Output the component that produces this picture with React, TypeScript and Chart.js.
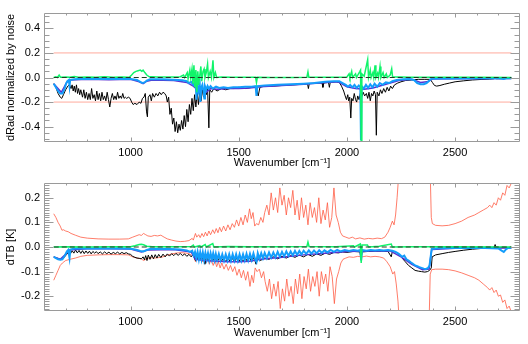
import React, { useEffect, useRef } from 'react';
import { Chart, registerables } from 'chart.js';

Chart.register(...registerables);

// ---------- axes ----------
const X_MIN = 600;
const X_MAX = 2800;
const xTickValues = [1000, 1500, 2000, 2500];
const yTicksTop = [-0.4, -0.2, 0.0, 0.2, 0.4];
const yTicksBottom = [-0.2, -0.1, 0.0, 0.1, 0.2];
const xTitle = 'Wavenumber [cm\u207B\u00B9]';
const yTitleTop = 'dRad normalized by noise';
const yTitleBottom = 'dTB [K]';

// ---------- top panel: dRad normalized by noise ([wavenumber, value]) ----------
const noiseLevelTop = [[645, 0.2], [2760, 0.2]];
const noiseLevelTopNeg = [[645, -0.2], [2760, -0.2]];
const zeroLine = [[645, 0], [2760, 0]];

const blackTop = [
  [645, -0.05], [655, -0.08], [665, -0.13], [675, -0.16], [682, -0.17], [690, -0.14], [700, -0.1], [710, -0.07], [718, -0.06],
  [725, -0.09], [730, -0.06], [735, -0.11], [740, -0.07], [745, -0.12], [750, -0.06], [755, -0.13], [760, -0.09], [765, -0.14], [770, -0.1],
  [778, -0.16], [784, -0.1], [790, -0.17], [796, -0.12], [802, -0.18], [808, -0.13], [814, -0.18], [820, -0.09], [826, -0.17], [832, -0.14],
  [838, -0.19], [844, -0.11], [850, -0.18], [856, -0.13], [862, -0.19], [868, -0.12], [874, -0.18], [880, -0.15], [886, -0.19], [892, -0.12],
  [898, -0.18], [904, -0.24], [910, -0.17], [916, -0.13], [922, -0.18], [928, -0.15], [934, -0.18], [940, -0.12], [946, -0.17], [952, -0.15],
  [958, -0.17], [964, -0.13], [970, -0.17], [976, -0.16], [982, -0.17], [990, -0.16], [998, -0.17],
  [1005, -0.2], [1012, -0.22], [1020, -0.21], [1030, -0.22], [1040, -0.2], [1048, -0.21], [1055, -0.17],
  [1062, -0.16], [1068, -0.13], [1074, -0.28], [1078, -0.32], [1082, -0.16], [1090, -0.14], [1096, -0.19], [1102, -0.13], [1110, -0.16],
  [1118, -0.13], [1126, -0.15], [1134, -0.12], [1142, -0.14], [1150, -0.12], [1158, -0.13],
  [1165, -0.15], [1170, -0.2], [1176, -0.16], [1182, -0.3], [1188, -0.25], [1194, -0.38], [1200, -0.33], [1206, -0.44], [1212, -0.36],
  [1218, -0.45], [1224, -0.38], [1230, -0.43], [1236, -0.35], [1242, -0.42], [1248, -0.31], [1254, -0.4], [1260, -0.26], [1266, -0.36],
  [1272, -0.22], [1278, -0.3], [1284, -0.17], [1290, -0.27], [1296, -0.14], [1302, -0.24], [1308, -0.12], [1314, -0.22], [1320, -0.11],
  [1326, -0.19], [1332, -0.1], [1338, -0.16], [1344, -0.1], [1350, -0.14], [1356, -0.09], [1362, -0.41], [1366, -0.1], [1375, -0.12],
  [1385, -0.09], [1400, -0.11], [1420, -0.09], [1440, -0.1], [1460, -0.09], [1480, -0.09], [1500, -0.08], [1530, -0.09], [1560, -0.08],
  [1580, -0.08], [1590, -0.15], [1598, -0.08], [1620, -0.07], [1660, -0.07], [1700, -0.065], [1750, -0.06], [1800, -0.055], [1818, -0.05],
  [1822, -0.09], [1826, -0.05], [1860, -0.045], [1885, -0.045], [1889, -0.08], [1893, -0.045], [1915, -0.04], [1919, -0.08], [1923, -0.04],
  [1950, -0.035], [1965, -0.04], [1975, -0.07], [1985, -0.11], [1992, -0.15], [1998, -0.18], [2004, -0.14], [2008, -0.19], [2013, -0.16],
  [2018, -0.33], [2022, -0.17], [2028, -0.19], [2034, -0.13], [2040, -0.18], [2045, -0.2], [2050, -0.15], [2056, -0.18], [2062, -0.13],
  [2068, -0.16], [2075, -0.12], [2082, -0.15], [2090, -0.13], [2096, -0.17], [2102, -0.12], [2108, -0.19], [2114, -0.13], [2120, -0.15],
  [2126, -0.11], [2132, -0.14], [2136, -0.47], [2140, -0.12], [2148, -0.15], [2155, -0.1], [2162, -0.13], [2170, -0.09], [2178, -0.12],
  [2186, -0.08], [2194, -0.11], [2202, -0.07], [2210, -0.09], [2220, -0.06], [2235, -0.045], [2250, -0.035], [2270, -0.025], [2300, -0.02],
  [2330, -0.015], [2360, -0.015], [2385, -0.015], [2395, -0.04], [2405, -0.065], [2415, -0.07], [2430, -0.065], [2450, -0.055],
  [2475, -0.045], [2500, -0.035], [2540, -0.027], [2580, -0.02], [2620, -0.016], [2660, -0.013], [2680, -0.01], [2685, 0.003],
  [2690, -0.01], [2720, -0.009], [2760, -0.008],
];

const purpleTop = [
  [645, -0.05], [680, -0.12], [705, -0.04], [720, -0.02], [800, -0.015], [900, -0.018], [1000, -0.015], [1040, -0.035], [1058, -0.05],
  [1075, -0.03], [1100, -0.02], [1200, -0.025], [1260, -0.04], [1290, -0.07], [1310, -0.1], [1330, -0.085], [1350, -0.12], [1370, -0.09],
  [1400, -0.095], [1450, -0.09], [1500, -0.09], [1550, -0.085], [1600, -0.075], [1700, -0.065], [1800, -0.055], [1900, -0.04],
  [1960, -0.035], [2000, -0.075], [2040, -0.09], [2080, -0.095], [2120, -0.085], [2160, -0.065], [2200, -0.045], [2240, -0.025],
  [2300, -0.015], [2340, -0.04], [2370, -0.035], [2395, -0.012], [2500, -0.01], [2760, -0.008],
];

const blueTop = [
  [645, -0.05], [655, -0.08], [665, -0.11], [675, -0.13], [685, -0.13], [695, -0.09], [702, -0.05], [708, -0.03], [715, -0.02],
  [718, -0.07], [721, -0.02], [740, -0.015], [780, -0.01], [820, -0.012], [860, -0.01], [900, -0.012], [950, -0.01], [1000, -0.012],
  [1030, -0.02], [1045, -0.035], [1055, -0.045], [1065, -0.04], [1075, -0.025], [1090, -0.015], [1150, -0.015], [1200, -0.018],
  [1240, -0.022], [1260, -0.03], [1270, -0.045], [1280, -0.035], [1290, -0.06], [1296, -0.04], [1302, -0.08], [1305, -0.18], [1308, -0.05],
  [1314, -0.11], [1320, -0.06], [1323, -0.2], [1326, -0.09], [1332, -0.06], [1338, -0.12], [1341, -0.17], [1344, -0.07], [1350, -0.1],
  [1356, -0.07], [1362, -0.09],
  [1370, -0.07], [1380, -0.09], [1395, -0.075], [1410, -0.085], [1430, -0.08], [1450, -0.085], [1475, -0.08], [1500, -0.08],
  [1530, -0.075], [1560, -0.075], [1578, -0.07], [1582, -0.15], [1586, -0.07], [1620, -0.065], [1680, -0.06], [1740, -0.055],
  [1800, -0.05], [1850, -0.045], [1900, -0.035], [1940, -0.03], [1965, -0.03], [1980, -0.045], [1995, -0.06], [2005, -0.075],
  [2015, -0.06], [2025, -0.08], [2035, -0.06], [2045, -0.085], [2055, -0.065], [2062, -0.08], [2065, -0.51], [2068, -0.07],
  [2078, -0.09], [2088, -0.06], [2098, -0.085], [2108, -0.055], [2118, -0.08], [2128, -0.05], [2140, -0.075], [2152, -0.045],
  [2165, -0.06], [2180, -0.04], [2195, -0.045], [2210, -0.03], [2230, -0.02], [2260, -0.015], [2290, -0.012], [2310, -0.02],
  [2325, -0.045], [2340, -0.055], [2355, -0.055], [2368, -0.045], [2378, -0.03], [2390, -0.01], [2420, -0.008], [2500, -0.008],
  [2600, -0.007], [2700, -0.007], [2725, -0.012], [2735, -0.006], [2760, -0.006],
];

const greenTop = [
  [645, 0.0], [655, 0.005], [662, 0.0], [670, 0.02], [676, 0.003], [700, 0.005], [720, 0.002], [740, 0.008], [760, 0.003], [800, 0.005],
  [840, 0.002], [880, 0.006], [920, 0.003], [960, 0.005], [995, 0.003], [1005, 0.02], [1015, 0.04], [1025, 0.05], [1035, 0.055],
  [1045, 0.06], [1052, 0.05], [1058, 0.06], [1066, 0.04], [1075, 0.02], [1085, 0.008], [1120, 0.004], [1160, 0.005], [1200, 0.004],
  [1230, 0.006], [1245, 0.02], [1250, 0.0], [1262, 0.04], [1266, -0.01], [1274, 0.06], [1278, 0.0], [1284, 0.07], [1288, -0.05],
  [1293, 0.1], [1297, -0.08], [1302, 0.06], [1306, -0.12], [1311, 0.05], [1315, -0.06], [1325, 0.09], [1329, -0.03], [1335, 0.05],
  [1340, 0.07], [1344, 0.0], [1350, 0.04], [1356, 0.11], [1360, 0.0], [1368, 0.05], [1374, 0.0], [1381, 0.14], [1385, 0.0], [1392, 0.04],
  [1398, 0.0], [1420, 0.004], [1470, 0.003], [1530, 0.002], [1578, 0.002], [1582, -0.04], [1586, 0.002], [1650, 0.001], [1750, 0.001],
  [1815, 0.002], [1820, 0.045], [1824, 0.002], [1900, 0.002], [1960, 0.003], [2000, 0.004], [2010, 0.03], [2014, 0.0], [2022, 0.05],
  [2026, 0.0], [2040, 0.03], [2044, 0.0], [2060, 0.05], [2063, 0.06], [2066, -0.51], [2069, 0.03], [2080, 0.01], [2096, 0.145],
  [2100, 0.0], [2108, 0.06], [2112, 0.0], [2120, 0.04], [2124, 0.0], [2130, 0.1], [2134, 0.0], [2142, 0.035], [2146, 0.0], [2153, 0.09],
  [2157, 0.0], [2167, 0.04], [2172, 0.0], [2182, 0.03], [2187, 0.0], [2200, 0.02], [2207, 0.07], [2211, 0.005], [2250, 0.004],
  [2300, 0.003], [2400, 0.002], [2500, 0.002], [2600, 0.002], [2760, 0.001],
];

// ---------- bottom panel: dTB [K] ----------
const noiseUpper = [
  [645, 0.135], [655, 0.12], [665, 0.1], [675, 0.085], [683, 0.068], [690, 0.07], [700, 0.065], [712, 0.062], [725, 0.055], [745, 0.048],
  [770, 0.04], [800, 0.036], [850, 0.033], [900, 0.032], [950, 0.032], [990, 0.033], [1010, 0.04], [1025, 0.045], [1040, 0.05],
  [1050, 0.047], [1060, 0.055], [1070, 0.05], [1080, 0.045], [1095, 0.043], [1110, 0.047], [1125, 0.045], [1140, 0.048], [1155, 0.04],
  [1170, 0.033], [1190, 0.028], [1210, 0.024], [1230, 0.022], [1250, 0.023], [1270, 0.026], [1285, 0.035], [1290, 0.028], [1300, 0.055],
  [1306, 0.04], [1315, 0.05], [1322, 0.038], [1330, 0.055], [1338, 0.042], [1346, 0.06], [1354, 0.045], [1362, 0.065], [1370, 0.05],
  [1380, 0.07], [1388, 0.055], [1396, 0.075], [1404, 0.058], [1412, 0.08], [1420, 0.062], [1430, 0.085], [1440, 0.065], [1450, 0.09],
  [1460, 0.07], [1470, 0.095], [1480, 0.08], [1490, 0.11], [1500, 0.085], [1510, 0.12], [1520, 0.09], [1530, 0.13], [1540, 0.1],
  [1550, 0.155], [1558, 0.115], [1566, 0.14], [1574, 0.085], [1582, 0.095], [1592, 0.09], [1602, 0.12], [1612, 0.1], [1620, 0.14],
  [1630, 0.17], [1640, 0.13], [1650, 0.22], [1660, 0.15], [1670, 0.2], [1680, 0.14], [1690, 0.24], [1700, 0.17], [1710, 0.21],
  [1720, 0.13], [1730, 0.2], [1740, 0.16], [1750, 0.23], [1760, 0.13], [1770, 0.19], [1780, 0.11], [1790, 0.2], [1800, 0.12],
  [1810, 0.17], [1820, 0.09], [1830, 0.18], [1840, 0.12], [1850, 0.16], [1860, 0.1], [1870, 0.2], [1880, 0.095], [1890, 0.15],
  [1900, 0.11], [1910, 0.18], [1920, 0.08], [1930, 0.12], [1940, 0.24], [1950, 0.13], [1960, 0.1], [1970, 0.06], [1980, 0.045],
  [1995, 0.04], [2010, 0.035], [2025, 0.04], [2040, 0.033], [2060, 0.037], [2080, 0.032], [2100, 0.035], [2120, 0.033], [2140, 0.036],
  [2160, 0.034], [2175, 0.04], [2190, 0.06], [2200, 0.08], [2210, 0.105], [2218, 0.09], [2225, 0.13], [2232, 0.2], [2240, 0.3],
  [2385, 0.3], [2390, 0.12], [2395, 0.095], [2410, 0.088], [2440, 0.086], [2470, 0.088], [2500, 0.095], [2530, 0.105], [2560, 0.12],
  [2590, 0.13], [2610, 0.14], [2630, 0.15], [2650, 0.16], [2660, 0.17], [2670, 0.16], [2680, 0.18], [2690, 0.17], [2700, 0.2],
  [2710, 0.19], [2720, 0.22], [2730, 0.21], [2740, 0.25], [2750, 0.24], [2760, 0.26],
];

const noiseLower = [
  [645, -0.135], [655, -0.115], [665, -0.095], [675, -0.075], [685, -0.065], [700, -0.055], [720, -0.05], [745, -0.045], [770, -0.038],
  [800, -0.034], [850, -0.032], [900, -0.031], [950, -0.031], [990, -0.032], [1010, -0.04], [1030, -0.045], [1050, -0.048],
  [1060, -0.055], [1075, -0.048], [1090, -0.043], [1110, -0.045], [1130, -0.043], [1150, -0.04], [1170, -0.033], [1190, -0.028],
  [1210, -0.025], [1230, -0.023], [1250, -0.024], [1270, -0.027], [1285, -0.035], [1292, -0.03], [1300, -0.06], [1307, -0.04],
  [1316, -0.055], [1324, -0.04], [1332, -0.06], [1340, -0.045], [1348, -0.065], [1356, -0.045], [1364, -0.07], [1372, -0.05],
  [1382, -0.075], [1390, -0.055], [1398, -0.08], [1406, -0.06], [1414, -0.085], [1422, -0.065], [1432, -0.09], [1442, -0.07],
  [1452, -0.095], [1462, -0.075], [1472, -0.1], [1482, -0.08], [1492, -0.115], [1502, -0.09], [1512, -0.125], [1522, -0.095],
  [1532, -0.135], [1542, -0.1], [1552, -0.16], [1560, -0.115], [1568, -0.145], [1576, -0.085], [1585, -0.1], [1595, -0.09],
  [1605, -0.125], [1615, -0.1], [1622, -0.14], [1632, -0.18], [1642, -0.13], [1652, -0.21], [1662, -0.15], [1672, -0.2], [1682, -0.14],
  [1692, -0.25], [1702, -0.17], [1712, -0.22], [1722, -0.13], [1732, -0.2], [1742, -0.16], [1752, -0.23], [1762, -0.13], [1772, -0.19],
  [1782, -0.11], [1792, -0.21], [1802, -0.12], [1812, -0.17], [1822, -0.09], [1832, -0.18], [1842, -0.12], [1852, -0.16], [1862, -0.1],
  [1872, -0.2], [1882, -0.1], [1892, -0.15], [1902, -0.11], [1912, -0.18], [1922, -0.08], [1932, -0.12], [1942, -0.23], [1952, -0.13],
  [1962, -0.1], [1972, -0.065], [1982, -0.05], [1995, -0.045], [2010, -0.04], [2030, -0.042], [2050, -0.038], [2070, -0.04],
  [2090, -0.037], [2110, -0.04], [2130, -0.038], [2150, -0.04], [2170, -0.045], [2185, -0.06], [2200, -0.08], [2212, -0.11],
  [2220, -0.1], [2228, -0.15], [2236, -0.22], [2242, -0.3], [2380, -0.3], [2385, -0.11], [2392, -0.092], [2410, -0.09], [2440, -0.09],
  [2470, -0.092], [2500, -0.097], [2530, -0.105], [2560, -0.115], [2590, -0.125], [2610, -0.135], [2630, -0.15], [2650, -0.165],
  [2660, -0.175], [2670, -0.165], [2680, -0.185], [2690, -0.175], [2700, -0.2], [2710, -0.195], [2720, -0.225], [2730, -0.215],
  [2740, -0.25], [2750, -0.24], [2760, -0.265],
];

const blackBottom = [
  [645, -0.04], [660, -0.045], [675, -0.05], [690, -0.045], [705, -0.03], [715, -0.02], [722, -0.028], [730, -0.015], [738, -0.025],
  [746, -0.012], [754, -0.024], [762, -0.014], [770, -0.026], [778, -0.015], [786, -0.027], [794, -0.016], [802, -0.026], [810, -0.017],
  [818, -0.028], [826, -0.018], [834, -0.025], [842, -0.019], [850, -0.027], [860, -0.02], [870, -0.028], [880, -0.02], [890, -0.027],
  [900, -0.021], [910, -0.029], [920, -0.022], [930, -0.027], [940, -0.021], [950, -0.028], [960, -0.022], [970, -0.027], [980, -0.023],
  [990, -0.028], [1000, -0.03], [1010, -0.038], [1020, -0.042], [1030, -0.045], [1040, -0.046], [1050, -0.048], [1058, -0.04],
  [1064, -0.052], [1070, -0.035], [1076, -0.055], [1082, -0.033], [1090, -0.05], [1098, -0.032], [1106, -0.048], [1114, -0.031],
  [1122, -0.045], [1130, -0.03], [1140, -0.043], [1150, -0.029], [1160, -0.04], [1170, -0.028], [1180, -0.037], [1190, -0.027],
  [1200, -0.035], [1210, -0.026], [1220, -0.034], [1230, -0.026], [1240, -0.035], [1250, -0.028], [1260, -0.038], [1270, -0.03],
  [1280, -0.04], [1290, -0.03], [1300, -0.055], [1306, -0.035], [1312, -0.05], [1320, -0.035], [1328, -0.055], [1336, -0.04],
  [1344, -0.07], [1350, -0.04], [1360, -0.055], [1370, -0.04], [1380, -0.055], [1390, -0.042], [1400, -0.06], [1410, -0.045],
  [1420, -0.058], [1430, -0.045], [1440, -0.06], [1450, -0.045], [1460, -0.058], [1470, -0.046], [1480, -0.06], [1490, -0.045],
  [1500, -0.062], [1510, -0.045], [1520, -0.06], [1530, -0.044], [1540, -0.058], [1550, -0.043], [1560, -0.06], [1570, -0.042],
  [1580, -0.07], [1590, -0.04], [1600, -0.055], [1620, -0.045], [1640, -0.05], [1660, -0.04], [1680, -0.048], [1700, -0.038],
  [1720, -0.045], [1740, -0.035], [1760, -0.042], [1780, -0.033], [1800, -0.04], [1820, -0.03], [1840, -0.038], [1860, -0.028],
  [1880, -0.034], [1900, -0.025], [1920, -0.03], [1940, -0.022], [1960, -0.024], [1980, -0.02], [2000, -0.022], [2030, -0.018],
  [2060, -0.02], [2065, -0.05], [2070, -0.02], [2100, -0.018], [2130, -0.017], [2160, -0.017], [2190, -0.018], [2205, -0.04],
  [2210, -0.018], [2225, -0.02], [2240, -0.03], [2255, -0.045], [2270, -0.06], [2285, -0.075], [2300, -0.085], [2315, -0.095],
  [2330, -0.098], [2345, -0.1], [2360, -0.102], [2372, -0.1], [2382, -0.095], [2390, -0.085], [2394, -0.04], [2410, -0.032],
  [2440, -0.027], [2470, -0.022], [2500, -0.018], [2540, -0.013], [2580, -0.009], [2620, -0.006], [2660, -0.004], [2680, -0.003],
  [2685, 0.01], [2690, -0.003], [2720, -0.002], [2760, -0.002],
];

const purpleBottom = [
  [645, -0.04], [675, -0.05], [700, -0.03], [715, -0.012], [800, -0.007], [900, -0.007], [1000, -0.008], [1050, -0.02], [1080, -0.012],
  [1200, -0.01], [1280, -0.02], [1300, -0.05], [1340, -0.055], [1400, -0.058], [1450, -0.06], [1500, -0.06], [1550, -0.058],
  [1600, -0.05], [1700, -0.042], [1800, -0.032], [1900, -0.025], [2000, -0.018], [2100, -0.016], [2200, -0.016], [2250, -0.04],
  [2300, -0.07], [2350, -0.092], [2380, -0.09], [2392, -0.01], [2500, -0.005], [2760, -0.004],
];

const blueBottom = [
  [645, -0.04], [655, -0.045], [665, -0.05], [675, -0.052], [685, -0.05], [693, -0.04], [700, -0.028], [706, -0.018], [712, -0.012],
  [718, -0.045], [722, -0.01], [740, -0.006], [780, -0.005], [820, -0.006], [860, -0.005], [900, -0.006], [940, -0.005], [980, -0.006],
  [1010, -0.008], [1030, -0.012], [1045, -0.016], [1060, -0.018], [1075, -0.012], [1090, -0.008], [1130, -0.007], [1180, -0.008],
  [1230, -0.01], [1260, -0.014], [1275, -0.02], [1285, -0.015], [1292, -0.035], [1298, -0.02], [1304, -0.045], [1310, -0.02],
  [1316, -0.05], [1322, -0.022], [1328, -0.05], [1334, -0.022], [1340, -0.052], [1346, -0.024], [1352, -0.05], [1358, -0.025],
  [1364, -0.052], [1370, -0.026], [1376, -0.05], [1382, -0.026], [1388, -0.052], [1394, -0.028], [1400, -0.053], [1408, -0.028],
  [1416, -0.054], [1424, -0.03], [1432, -0.055], [1440, -0.03], [1448, -0.055], [1456, -0.03], [1464, -0.056], [1472, -0.03],
  [1480, -0.055], [1488, -0.03], [1496, -0.056], [1504, -0.03], [1512, -0.055], [1520, -0.03], [1528, -0.054], [1536, -0.028],
  [1544, -0.054], [1552, -0.028], [1560, -0.052], [1568, -0.026], [1576, -0.05], [1582, -0.06], [1588, -0.025], [1596, -0.048],
  [1604, -0.025], [1612, -0.046], [1620, -0.024], [1630, -0.045], [1640, -0.022], [1650, -0.043], [1660, -0.022], [1670, -0.042],
  [1680, -0.02], [1690, -0.04], [1700, -0.02], [1710, -0.038], [1720, -0.018], [1730, -0.036], [1740, -0.018], [1750, -0.034],
  [1760, -0.016], [1770, -0.032], [1780, -0.016], [1790, -0.03], [1800, -0.015], [1812, -0.028], [1824, -0.014], [1836, -0.027],
  [1848, -0.014], [1860, -0.026], [1872, -0.013], [1884, -0.024], [1896, -0.013], [1910, -0.022], [1925, -0.012], [1940, -0.02],
  [1955, -0.012], [1970, -0.018], [1990, -0.012], [2010, -0.016], [2030, -0.012], [2050, -0.015], [2062, -0.012], [2066, -0.055],
  [2070, -0.012], [2090, -0.015], [2110, -0.012], [2130, -0.014], [2150, -0.012], [2170, -0.014], [2190, -0.012], [2210, -0.015],
  [2225, -0.02], [2240, -0.028], [2255, -0.04], [2265, -0.035], [2275, -0.05], [2285, -0.055], [2295, -0.062], [2305, -0.068],
  [2315, -0.075], [2325, -0.078], [2335, -0.082], [2345, -0.085], [2355, -0.088], [2365, -0.09], [2375, -0.085], [2382, -0.075],
  [2387, -0.04], [2392, -0.008], [2420, -0.005], [2480, -0.004], [2560, -0.004], [2640, -0.004], [2700, -0.006], [2715, -0.015],
  [2725, -0.02], [2735, -0.01], [2745, -0.004], [2760, -0.004],
];

const greenBottom = [
  [645, 0.0], [700, 0.001], [800, 0.0], [900, 0.001], [1000, 0.001], [1020, 0.005], [1040, 0.01], [1050, 0.011], [1060, 0.009],
  [1075, 0.003], [1100, 0.001], [1200, 0.001], [1280, 0.002], [1290, 0.008], [1295, 0.0], [1320, 0.006], [1325, 0.0], [1345, 0.01],
  [1350, 0.0], [1380, 0.014], [1385, 0.0], [1450, 0.002], [1550, 0.001], [1650, 0.001], [1815, 0.002], [1820, 0.02], [1825, 0.002],
  [1950, 0.001], [2030, 0.005], [2035, 0.0], [2062, 0.012], [2066, -0.065], [2070, 0.008], [2095, 0.008], [2100, 0.0], [2150, 0.003],
  [2205, 0.012], [2210, 0.0], [2300, 0.001], [2500, 0.001], [2760, 0.0],
];

// ---------- styling ----------
const FONT = { family: 'Liberation Sans, Arial, Helvetica, sans-serif', size: 11 };
const AXIS_COLOR = '#9a9a9a';
const C_BLACK = '#000000';
const C_PURPLE = '#5a2fd0';
const C_BLUE = '#139dfb';
const C_GREEN = '#10f46a';
const C_DASH = '#233a25';
const C_NOISE_TOP = '#ffaa9c';
const C_NOISE_BOTTOM = '#ff5c44';

const series = (pts, color, width, order, dash) => ({
  data: pts.map((p) => ({ x: p[0], y: p[1] })),
  borderColor: color,
  borderWidth: width,
  borderDash: dash || [],
  pointRadius: 0,
  fill: false,
  tension: 0,
  order,
});

// IDL-like boxed axes with inward ticks
const idlAxes = {
  id: 'idlAxes',
  afterDatasetsDraw(chart, _args, opts) {
    const { ctx, chartArea: a, scales } = chart;
    const xs = scales.x;
    const ys = scales.y;
    const L = Math.round(a.left) + 0.5;
    const R = Math.round(a.right) - 0.5;
    const T = Math.round(a.top) + 0.5;
    const B = Math.round(a.bottom) - 0.5;
    ctx.save();
    ctx.strokeStyle = AXIS_COLOR;
    ctx.lineWidth = 1;
    ctx.beginPath();
    ctx.moveTo(L, T); ctx.lineTo(R, T); ctx.lineTo(R, B); ctx.lineTo(L, B); ctx.closePath();
    for (let v = X_MIN + 100; v < X_MAX; v += 100) {
      const px = Math.round(xs.getPixelForValue(v)) + 0.5;
      const len = v % 500 === 0 ? 4 : 2;
      ctx.moveTo(px, B); ctx.lineTo(px, B - len);
      ctx.moveTo(px, T); ctx.lineTo(px, T + len);
    }
    const n = Math.round((opts.yTo - opts.yFrom) / opts.yStep);
    for (let i = 0; i <= n; i++) {
      const v = opts.yFrom + i * opts.yStep;
      const py = Math.round(ys.getPixelForValue(v)) + 0.5;
      const major = opts.yMajor.some((m) => Math.abs(m - v) < 1e-6);
      const len = major ? 9 : 5;
      ctx.moveTo(L, py); ctx.lineTo(L + len, py);
      ctx.moveTo(R, py); ctx.lineTo(R - len, py);
    }
    ctx.stroke();
    ctx.restore();
  },
};

function makeOptions(yMin, yMax, yTicks, yTitle, pad, xHeight, yStep, yFrom, yTo) {
  return {
    responsive: false,
    animation: false,
    devicePixelRatio: 1,
    layout: { padding: pad },
    plugins: {
      legend: { display: false },
      tooltip: { enabled: false },
      idlAxes: { yStep, yFrom, yTo, yMajor: yTicks },
    },
    scales: {
      x: {
        type: 'linear',
        min: X_MIN,
        max: X_MAX,
        grid: { display: false, drawTicks: false },
        border: { display: false },
        afterBuildTicks: (s) => { s.ticks = xTickValues.map((v) => ({ value: v })); },
        afterFit: (s) => { s.height = xHeight; },
        ticks: { color: '#000', font: FONT, padding: 4, maxRotation: 0, autoSkip: false, callback: (v) => String(v) },
        title: { display: true, text: xTitle, color: '#000', font: FONT, padding: 0 },
      },
      y: {
        type: 'linear',
        min: yMin,
        max: yMax,
        grid: { display: false, drawTicks: false },
        border: { display: false },
        afterBuildTicks: (s) => { s.ticks = yTicks.map((v) => ({ value: v })); },
        afterFit: (s) => { s.width = 40; },
        ticks: { color: '#000', font: FONT, padding: 4, autoSkip: false, callback: (v) => Number(v).toFixed(1) },
        title: { display: true, text: yTitle, color: '#000', font: FONT, padding: 0 },
      },
    },
  };
}

export default function App() {
  const topRef = useRef(null);
  const botRef = useRef(null);

  useEffect(() => {
    const top = new Chart(topRef.current, {
      type: 'line',
      data: {
        datasets: [
          series(zeroLine, C_DASH, 1.2, 0, [5, 3]),
          series(greenTop, C_GREEN, 1.5, 1),
          series(blueTop, C_BLUE, 2, 2),
          series(purpleTop, C_PURPLE, 1.5, 3),
          series(blackTop, C_BLACK, 1, 4),
          series(noiseLevelTop, C_NOISE_TOP, 1, 5),
          series(noiseLevelTopNeg, C_NOISE_TOP, 1, 5),
        ],
      },
      options: makeOptions(-0.525, 0.525, yTicksTop, yTitleTop, { left: 4, right: 8, top: 13, bottom: 2 }, 28, 0.05, -0.5, 0.5),
      plugins: [idlAxes],
    });
    const bot = new Chart(botRef.current, {
      type: 'line',
      data: {
        datasets: [
          series(zeroLine, C_DASH, 1.2, 0, [5, 3]),
          series(greenBottom, C_GREEN, 1.5, 1),
          series(blueBottom, C_BLUE, 2, 2),
          series(purpleBottom, C_PURPLE, 1.5, 3),
          series(blackBottom, C_BLACK, 1, 4),
          series(noiseUpper, C_NOISE_BOTTOM, 0.8, 5),
          series(noiseLower, C_NOISE_BOTTOM, 0.8, 5),
        ],
      },
      options: makeOptions(-0.26, 0.26, yTicksBottom, yTitleBottom, { left: 4, right: 8, top: 11, bottom: 4 }, 29, 0.01, -0.25, 0.25),
      plugins: [idlAxes],
    });
    return () => { top.destroy(); bot.destroy(); };
  }, []);

  return (
    <div style={{ position: 'absolute', left: 0, top: 0, width: 528, height: 344, background: '#fff' }}>
      <canvas ref={topRef} width={528} height={172} style={{ position: 'absolute', left: 0, top: 0 }} />
      <canvas ref={botRef} width={528} height={172} style={{ position: 'absolute', left: 0, top: 172 }} />
    </div>
  );
}
